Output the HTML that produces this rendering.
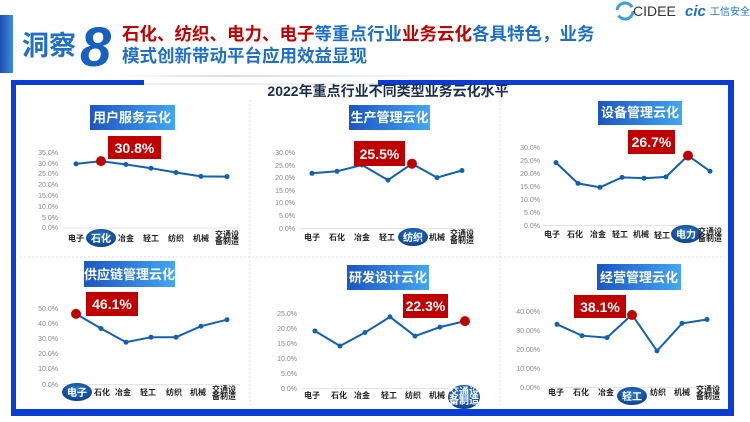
<!DOCTYPE html>
<html><head><meta charset="utf-8"><style>
html,body{margin:0;padding:0;background:#fff;}
svg{display:block;font-family:"Liberation Sans","Noto Sans CJK SC",sans-serif;}
.tk{font-size:7px;fill:#888;text-anchor:end;}
.ct{font-size:8px;fill:#222;font-weight:bold;text-anchor:middle;}
.ln{fill:none;stroke:#1260b0;stroke-width:2;}
.pt{fill:#1260b0;}
.tt{font-size:13px;fill:#fff;font-weight:bold;text-anchor:middle;}
.rv{font-size:14px;fill:#fff;font-weight:bold;text-anchor:middle;}
.hl{font-size:10px;fill:#fff;font-weight:bold;text-anchor:middle;}
</style></head><body>
<svg width="750" height="422" viewBox="0 0 750 422">
<defs>
<linearGradient id="tg" x1="0" x2="1"><stop offset="0" stop-color="#1c56c2"/><stop offset="1" stop-color="#42a6f2"/></linearGradient>
<linearGradient id="tab" x1="0" x2="1"><stop offset="0" stop-color="#1d4fb0"/><stop offset="1" stop-color="#3c8ee0"/></linearGradient>
<radialGradient id="el" cx="0.5" cy="0.4" r="0.6"><stop offset="0" stop-color="#2f7fd0"/><stop offset="1" stop-color="#0d3f8f"/></radialGradient>
<linearGradient id="sep" x1="0" x2="1"><stop offset="0" stop-color="#fff"/><stop offset="0.3" stop-color="#d6dde8"/><stop offset="1" stop-color="#fff"/></linearGradient>
</defs>
<!-- header -->
<rect x="0" y="15" width="13" height="58" fill="url(#tab)"/>
<text x="22" y="55" font-size="27" font-weight="bold" fill="#1f6fc8">洞察</text>
<text x="80" y="66" font-size="56" font-weight="bold" font-style="italic" fill="#1560c0">8</text>
<text x="122" y="40" font-size="17.5" font-weight="bold"><tspan fill="#c00000">石化、纺织、电力、电子</tspan><tspan fill="#1f6fc8">等重点行业</tspan><tspan fill="#c00000">业务云化</tspan><tspan fill="#1f6fc8">各具特色，业务</tspan></text>
<text x="122" y="62" font-size="17.5" font-weight="bold" fill="#1f6fc8">模式创新带动平台应用效益显现</text>
<rect x="118" y="75" width="360" height="2" fill="url(#sep)"/>
<!-- logos -->
<circle cx="625" cy="11" r="8" fill="none" stroke="#3aa0d8" stroke-width="3" stroke-dasharray="20 6"/>
<text x="633" y="16" font-size="14" fill="#333">CIDEE</text>
<text x="685" y="16" font-size="15" font-weight="bold" font-style="italic" fill="#1f6fc8">cic</text>
<text x="710" y="15" font-size="10" fill="#1f6fc8">工信安全</text>
<!-- frame -->
<rect x="14" y="84" width="716" height="326" fill="#fff" stroke="#ddd"/>
<rect x="11" y="80" width="5" height="336" fill="#0a3cd6"/>
<rect x="728" y="80" width="6" height="336" fill="#0a3cd6"/>
<rect x="11" y="409" width="723" height="7" fill="#0a3cd6"/>
<rect x="11" y="80" width="133" height="5" fill="#0a3cd6"/>
<rect x="378" y="80" width="356" height="5" fill="#0a3cd6"/>
<text x="388" y="96" font-size="14" font-weight="bold" fill="#1a2f4f" text-anchor="middle">2022年重点行业不同类型业务云化水平</text>
<g stroke="#ddd" stroke-dasharray="2 2"><line x1="250" y1="100" x2="250" y2="405"/><line x1="500" y1="100" x2="500" y2="405"/><line x1="20" y1="257" x2="725" y2="257"/></g>

<!-- chart1 -->
<rect x="90" y="105" width="85" height="25" fill="url(#tg)"/><text class="tt" x="132" y="122">用户服务云化</text>
<g><text class="tk" x="58" y="155">35.0%</text><text class="tk" x="58" y="166">30.0%</text><text class="tk" x="58" y="176">25.0%</text><text class="tk" x="58" y="187">20.0%</text><text class="tk" x="58" y="198">15.0%</text><text class="tk" x="58" y="209">10.0%</text><text class="tk" x="58" y="220">5.0%</text><text class="tk" x="58" y="230">0.0%</text></g>
<line x1="63" y1="228" x2="240" y2="228" stroke="#e4e4e4"/>
<polyline class="ln" points="76,163.9 101,161.1 126,164.5 151,168.2 176,172.5 201,176.4 227,176.6"/>
<g class="pt"><circle cx="76" cy="163.9" r="2.5"/><circle cx="126" cy="164.5" r="2.5"/><circle cx="151" cy="168.2" r="2.5"/><circle cx="176" cy="172.5" r="2.5"/><circle cx="201" cy="176.4" r="2.5"/><circle cx="227" cy="176.6" r="2.5"/></g>
<circle cx="101" cy="161.1" r="5" fill="#c00000"/>
<rect x="108" y="136" width="53" height="23" fill="#c00000"/><text class="rv" x="134.5" y="153">30.8%</text>
<ellipse cx="101" cy="238" rx="15" ry="9" fill="url(#el)"/>
<text class="ct" x="76" y="241">电子</text><text class="hl" x="101" y="242">石化</text><text class="ct" x="126" y="241">冶金</text><text class="ct" x="151" y="241">轻工</text><text class="ct" x="176" y="241">纺织</text><text class="ct" x="201" y="241">机械</text><text class="ct" x="227" y="237" font-size="6">交通设</text><text class="ct" x="227" y="244" font-size="6">备制造</text>

<!-- chart2 -->
<rect x="349" y="105" width="81" height="25" fill="url(#tg)"/><text class="tt" x="389.5" y="122">生产管理云化</text>
<g><text class="tk" x="295" y="155">30.0%</text><text class="tk" x="295" y="168">25.0%</text><text class="tk" x="295" y="180">20.0%</text><text class="tk" x="295" y="193">15.0%</text><text class="tk" x="295" y="205">10.0%</text><text class="tk" x="295" y="218">5.0%</text><text class="tk" x="295" y="231">0.0%</text></g>
<line x1="300" y1="228.5" x2="475" y2="228.5" stroke="#e4e4e4"/>
<polyline class="ln" points="312,173.3 337,171.3 362,165 388,180.1 412,163.7 437,177.6 462,170.5"/>
<g class="pt"><circle cx="312" cy="173.3" r="2.5"/><circle cx="337" cy="171.3" r="2.5"/><circle cx="362" cy="165" r="2.5"/><circle cx="388" cy="180.1" r="2.5"/><circle cx="437" cy="177.6" r="2.5"/><circle cx="462" cy="170.5" r="2.5"/></g>
<rect x="354" y="141" width="51" height="25" fill="#c00000"/><text class="rv" x="379.5" y="159">25.5%</text>
<circle cx="412" cy="163.7" r="5" fill="#c00000"/>
<ellipse cx="413" cy="237" rx="15" ry="9" fill="url(#el)"/>
<text class="ct" x="312" y="240">电子</text><text class="ct" x="337" y="240">石化</text><text class="ct" x="362" y="240">冶金</text><text class="ct" x="387" y="240">轻工</text><text class="hl" x="413" y="241">纺织</text><text class="ct" x="437" y="240">机械</text><text class="ct" x="462" y="236" font-size="6">交通设</text><text class="ct" x="462" y="243" font-size="6">备制造</text>

<!-- chart3 -->
<rect x="598" y="101" width="84" height="24" fill="url(#tg)"/><text class="tt" x="640" y="117">设备管理云化</text>
<g><text class="tk" x="540" y="150">30.0%</text><text class="tk" x="540" y="163">25.0%</text><text class="tk" x="540" y="176">20.0%</text><text class="tk" x="540" y="189">15.0%</text><text class="tk" x="540" y="202">10.0%</text><text class="tk" x="540" y="215">5.0%</text><text class="tk" x="540" y="228">0.0%</text></g>
<line x1="543" y1="225.5" x2="720" y2="225.5" stroke="#e4e4e4"/>
<polyline class="ln" points="556,162.6 578,183.4 600,187.3 622,177.4 644,178.2 666,176.9 688,155.6 710,171.2"/>
<g class="pt"><circle cx="556" cy="162.6" r="2.5"/><circle cx="578" cy="183.4" r="2.5"/><circle cx="600" cy="187.3" r="2.5"/><circle cx="622" cy="177.4" r="2.5"/><circle cx="644" cy="178.2" r="2.5"/><circle cx="666" cy="176.9" r="2.5"/><circle cx="710" cy="171.2" r="2.5"/></g>
<rect x="628" y="130" width="47" height="24" fill="#c00000"/><text class="rv" x="651.5" y="147">26.7%</text>
<circle cx="688" cy="155.6" r="5" fill="#c00000"/>
<ellipse cx="686" cy="234" rx="15" ry="9" fill="url(#el)"/>
<text class="ct" x="552" y="237">电子</text><text class="ct" x="575" y="237">石化</text><text class="ct" x="598" y="237">冶金</text><text class="ct" x="620" y="237">轻工</text><text class="ct" x="641" y="237">机械</text><text class="ct" x="662" y="238">轻工</text><text class="hl" x="686" y="238">电力</text><text class="ct" x="710" y="234" font-size="6">交通设</text><text class="ct" x="710" y="241" font-size="6">备制造</text>

<!-- chart4 -->
<rect x="84" y="261" width="91" height="26" fill="url(#tg)"/><text class="tt" x="129.5" y="279">供应链管理云化</text>
<g><text class="tk" x="58" y="311">50.0%</text><text class="tk" x="58" y="326">40.0%</text><text class="tk" x="58" y="341">30.0%</text><text class="tk" x="58" y="356">20.0%</text><text class="tk" x="58" y="371">10.0%</text><text class="tk" x="58" y="387">0.0%</text></g>
<line x1="63" y1="384.5" x2="240" y2="384.5" stroke="#e4e4e4"/>
<polyline class="ln" points="76,313.9 101,328.5 126,342.2 151,337.2 176,337.2 201,326.2 227,319.7"/>
<g class="pt"><circle cx="101" cy="328.5" r="2.5"/><circle cx="126" cy="342.2" r="2.5"/><circle cx="151" cy="337.2" r="2.5"/><circle cx="176" cy="337.2" r="2.5"/><circle cx="201" cy="326.2" r="2.5"/><circle cx="227" cy="319.7" r="2.5"/></g>
<rect x="86" y="292" width="52" height="24" fill="#c00000"/><text class="rv" x="112" y="309">46.1%</text>
<circle cx="76" cy="313.9" r="5" fill="#c00000"/>
<ellipse cx="77" cy="392" rx="15" ry="9" fill="url(#el)"/>
<text class="hl" x="77" y="396">电子</text><text class="ct" x="102" y="395">石化</text><text class="ct" x="123" y="395">冶金</text><text class="ct" x="148" y="395">轻工</text><text class="ct" x="174" y="395">纺织</text><text class="ct" x="198" y="395">机械</text><text class="ct" x="224" y="392" font-size="6">交通设</text><text class="ct" x="224" y="399" font-size="6">备制造</text>

<!-- chart5 -->
<rect x="347" y="265" width="82" height="25" fill="url(#tg)"/><text class="tt" x="388" y="282">研发设计云化</text>
<g><text class="tk" x="297" y="316">25.0%</text><text class="tk" x="297" y="331">20.0%</text><text class="tk" x="297" y="346">15.0%</text><text class="tk" x="297" y="361">10.0%</text><text class="tk" x="297" y="376">5.0%</text><text class="tk" x="297" y="391">0.0%</text></g>
<line x1="302" y1="388.5" x2="480" y2="388.5" stroke="#e4e4e4"/>
<polyline class="ln" points="315,331 340,346 365,332.5 390,316.9 415,336.1 440,327.1 465,321.1"/>
<g class="pt"><circle cx="315" cy="331" r="2.5"/><circle cx="340" cy="346" r="2.5"/><circle cx="365" cy="332.5" r="2.5"/><circle cx="390" cy="316.9" r="2.5"/><circle cx="415" cy="336.1" r="2.5"/><circle cx="440" cy="327.1" r="2.5"/></g>
<rect x="403" y="294" width="45" height="24" fill="#c00000"/><text class="rv" x="425.5" y="311">22.3%</text>
<circle cx="465" cy="321.1" r="5" fill="#c00000"/>
<ellipse cx="464" cy="397" rx="16" ry="12" fill="url(#el)"/>
<text class="ct" x="312" y="398">电子</text><text class="ct" x="339" y="398">石化</text><text class="ct" x="362" y="398">冶金</text><text class="ct" x="389" y="398">轻工</text><text class="ct" x="413" y="398">纺织</text><text class="ct" x="437" y="398">机械</text><text class="hl" x="464" y="395" font-size="8">交通设</text><text class="hl" x="464" y="404" font-size="8">备制造</text>

<!-- chart6 -->
<rect x="597" y="264" width="84" height="26" fill="url(#tg)"/><text class="tt" x="639" y="282">经营管理云化</text>
<g><text class="tk" x="540" y="314">40.00%</text><text class="tk" x="540" y="333">30.00%</text><text class="tk" x="540" y="352">20.00%</text><text class="tk" x="540" y="371">10.00%</text><text class="tk" x="540" y="390">0.00%</text></g>
<line x1="545" y1="387.5" x2="720" y2="387.5" stroke="#e4e4e4"/>
<polyline class="ln" points="557,324.3 582,335.7 607,337.6 632,314.6 657,350.9 682,323.4 707,319.5"/>
<g class="pt"><circle cx="557" cy="324.3" r="2.5"/><circle cx="582" cy="335.7" r="2.5"/><circle cx="607" cy="337.6" r="2.5"/><circle cx="657" cy="350.9" r="2.5"/><circle cx="682" cy="323.4" r="2.5"/><circle cx="707" cy="319.5" r="2.5"/></g>
<rect x="574" y="295" width="52" height="23" fill="#c00000"/><text class="rv" x="600" y="312">38.1%</text>
<circle cx="632" cy="315" r="5" fill="#c00000"/>
<ellipse cx="632" cy="396" rx="15" ry="9" fill="url(#el)"/>
<text class="ct" x="556" y="395">电子</text><text class="ct" x="581" y="395">石化</text><text class="ct" x="606" y="395">冶金</text><text class="hl" x="632" y="400">轻工</text><text class="ct" x="658" y="395">纺织</text><text class="ct" x="682" y="395">机械</text><text class="ct" x="708" y="392" font-size="6">交通设</text><text class="ct" x="708" y="399" font-size="6">备制造</text>
</svg>
</body></html>
